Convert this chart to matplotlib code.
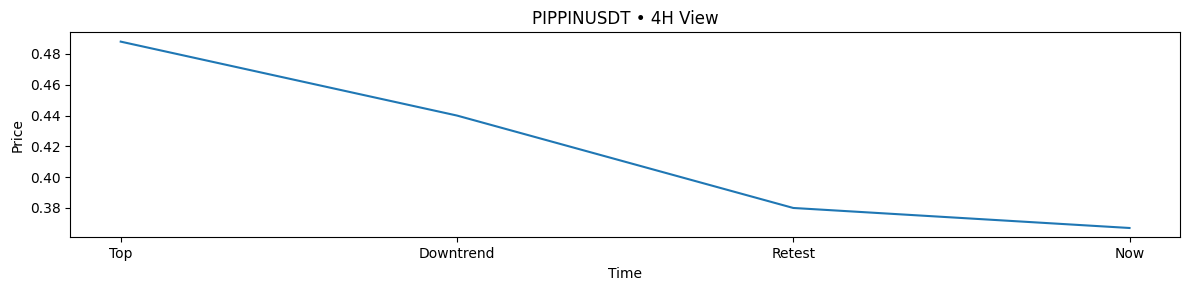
import matplotlib.pyplot as plt
from matplotlib.ticker import MultipleLocator

stages = ["Top", "Downtrend", "Retest", "Now"]
prices = [0.488, 0.440, 0.380, 0.367]

fig, ax = plt.subplots(figsize=(11.89, 2.9), dpi=100)
ax.plot(stages, prices)
ax.set_title("PIPPINUSDT • 4H View")
ax.set_xlabel("Time")
ax.set_ylabel("Price")
ax.yaxis.set_major_locator(MultipleLocator(0.02))
fig.subplots_adjust(left=0.0591, right=0.9924, top=0.8886, bottom=0.1817)
plt.savefig("out.png", dpi=100)
